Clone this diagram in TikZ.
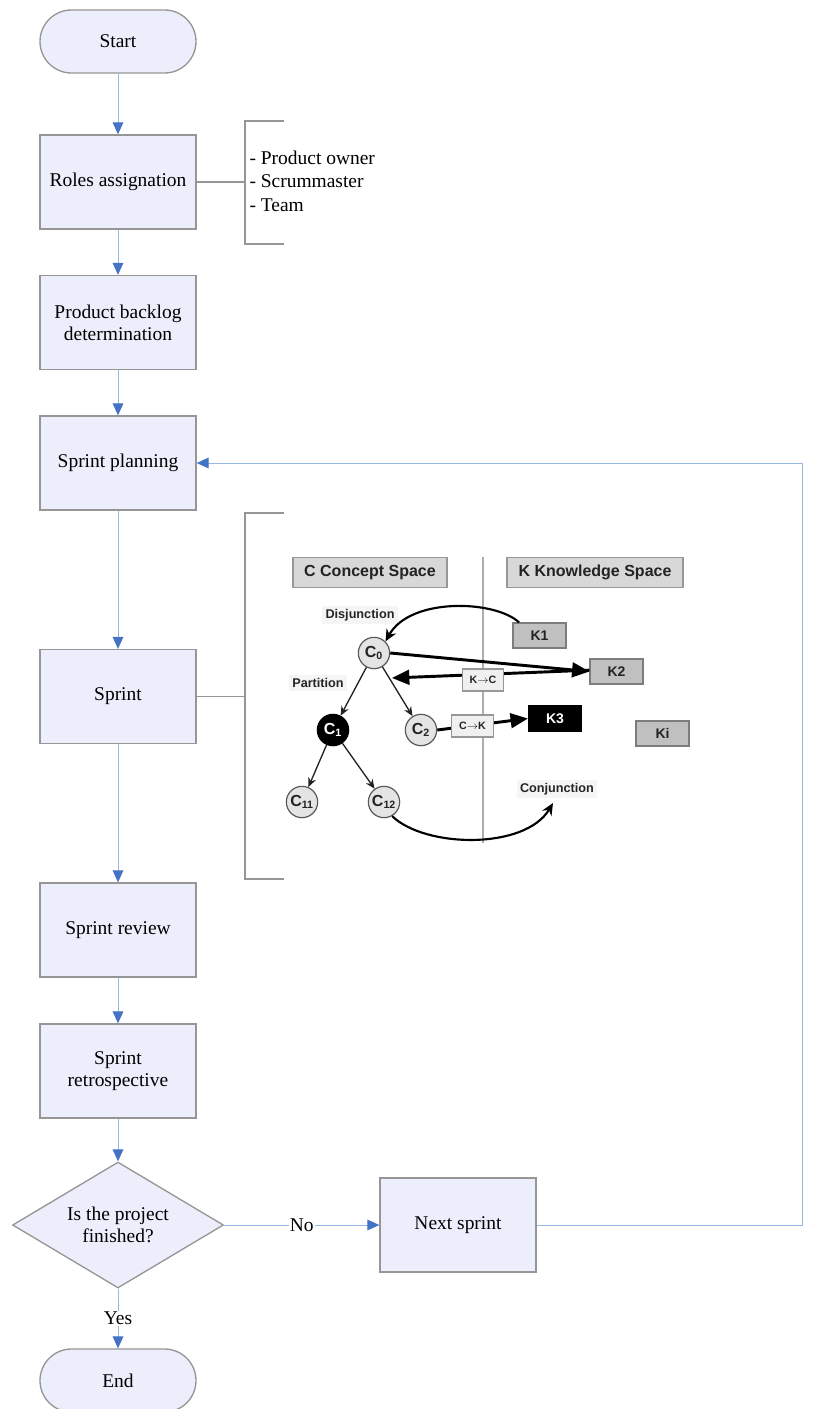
\documentclass[tikz,border=0pt]{standalone}
\usepackage{fontspec}
\setmainfont{Liberation Serif}
\setsansfont{Liberation Sans}
\usetikzlibrary{arrows.meta,shapes.geometric}

\definecolor{boxfill}{RGB}{237,238,251}
\definecolor{boxdraw}{RGB}{150,150,150}
\definecolor{flowblue}{RGB}{150,185,228}
\definecolor{tipblue}{RGB}{68,114,196}
\definecolor{figtext}{RGB}{35,35,35}
\definecolor{kfill}{RGB}{192,192,192}
\definecolor{kdraw}{RGB}{125,125,125}
\definecolor{headfill}{RGB}{216,216,216}
\definecolor{cfill}{RGB}{228,228,228}

\tikzset{every picture/.style={line width=0.75pt}}
\tikzset{
  flowbox/.style={draw=boxdraw, fill=boxfill, line width=1pt, minimum width=117pt, minimum height=70.5pt,
    inner sep=2pt, align=center, font=\fontsize{14.6}{16.3}\selectfont},
  terminal/.style={flowbox, minimum height=47.25pt, rounded corners=23.6pt},
  decision/.style={flowbox, diamond, aspect=1.67, minimum width=158.25pt, minimum height=94.5pt, inner sep=0pt},
  flowline/.style={draw=flowblue, line width=0.75pt, -{Triangle[length=9pt,width=8pt,color=tipblue]}},
  bracketline/.style={draw=boxdraw, line width=0.9pt},
  spacehead/.style={draw=kdraw!80, fill=headfill, line width=0.9pt, minimum height=22.5pt,
    font=\sffamily\bfseries\fontsize{12}{14}\selectfont, text=figtext},
  kbox/.style={draw=kdraw, fill=kfill, line width=0.9pt, minimum width=39.75pt, minimum height=18.75pt,
    inner sep=1pt, font=\sffamily\bfseries\fontsize{10.5}{12}\selectfont, text=figtext},
  kdark/.style={kbox, fill=black, draw=black, text=white},
  concept/.style={circle, draw=kdraw!70!black, fill=cfill, line width=0.9pt, minimum size=23.5pt,
    inner sep=0pt, font=\sffamily\bfseries\fontsize{12}{13}\selectfont, text=figtext},
  cdark/.style={concept, fill=black, draw=black, text=white},
  oplabel/.style={fill=gray!8, inner sep=2.5pt, font=\sffamily\bfseries\fontsize{9.5}{11}\selectfont, text=gray!30!black},
  opbox/.style={draw=kdraw!80, fill=gray!12, line width=0.8pt, minimum width=31pt, minimum height=16.5pt,
    inner sep=1pt, font=\sffamily\bfseries\fontsize{8}{9}\selectfont, text=figtext},
  treearrow/.style={draw=figtext, line width=1pt, -{Stealth[length=7pt,width=6pt]}},
  boldarrow/.style={draw=black, line width=2.2pt, -{Triangle[length=13pt,width=11pt]}},
  arcarrow/.style={draw=black, line width=1.6pt, -{Stealth[length=9pt,width=8pt]}}
}

\begin{document}
\begin{tikzpicture}[x=0.75pt,y=0.75pt,yscale=-1,xscale=1]
	\useasboundingbox (0,0) rectangle (823,1409);

	%Flowchart: Terminator
	\node[terminal] (start) at (118,41.5) {Start};
	%Flowchart: Process
	\node[flowbox] (roles) at (118,182) {Roles assignation};
	\node[flowbox] (backlog) at (118,322.5) {Product backlog\\determination};
	\node[flowbox] (planning) at (118,463) {Sprint planning};
	\node[flowbox] (sprint) at (118,696.5) {Sprint};
	\node[flowbox] (review) at (118,930) {Sprint review};
	\node[flowbox] (retro) at (118,1071) {Sprint\\retrospective};
	%Flowchart: Decision
	\node[decision] (finished) at (118,1225) {Is the project\\finished?};
	\node[flowbox] (next) at (458,1225) {Next sprint};
	\node[terminal] (end) at (118,1380.5) {End};

	%Straight Lines
	\draw[flowline] (start) -- (roles);
	\draw[flowline] (roles) -- (backlog);
	\draw[flowline] (backlog) -- (planning);
	\draw[flowline] (planning) -- (sprint);
	\draw[flowline] (sprint) -- (review);
	\draw[flowline] (review) -- (retro);
	\draw[flowline] (retro) -- (finished);
	\draw[flowline] (finished.east) -- node[fill=white, inner sep=1pt, font=\fontsize{14.6}{16}\selectfont] {No} (next.west);
	\draw[flowline] (finished.south) -- node[fill=white, inner sep=1pt, font=\fontsize{14.6}{16}\selectfont] {Yes} (end.north);
	%Loop back
	\coordinate (loopcorner) at (802,1225);
	\draw[flowline] (next.east) -- (loopcorner) |- (planning.east);

	%Annotation: roles
	\coordinate (rolesbar) at (245,182);
	\draw[bracketline] (roles.east) -- (rolesbar);
	\draw[bracketline] (284,121) -- (245,121) -- (245,244) -- (284,244);
	% Text Node
	\node[anchor=west, inner sep=0pt, align=left, font=\fontsize{14.6}{17.6}\selectfont] (rolelist) at (249,181)
		{- Product owner\\- Scrummaster\\- Team};

	%Annotation: sprint
	\coordinate (sprintbar) at (245,696.5);
	\draw[bracketline] (sprint.east) -- (sprintbar);
	\draw[bracketline] (284,513) -- (245,513) -- (245,879) -- (284,879);

	%C-K figure
	\draw[draw=gray!65, line width=1pt] (483,557) -- (483,843);
	\node[spacehead, minimum width=115.5pt] (cspace) at (370,572.5) {C Concept Space};
	\node[spacehead, minimum width=132pt] (kspace) at (595,572.5) {K Knowledge Space};

	% Text Node
	\node[oplabel] (disj) at (360,615) {Disjunction};
	\node[oplabel] (part) at (318,683) {Partition};
	\node[oplabel] (conj) at (557,789) {Conjunction};

	%Concepts
	\node[concept] (c0) at (374,653) {C\textsubscript{0}};
	\node[cdark] (c1) at (333,730) {C\textsubscript{1}};
	\node[concept] (c2) at (421,730) {C\textsubscript{2}};
	\node[concept] (c11) at (302,802) {C\textsubscript{11}};
	\node[concept] (c12) at (384,802) {C\textsubscript{12}};

	%Knowledge
	\node[kbox] (k1) at (539.5,635.5) {K1};
	\node[kbox] (k2) at (616.5,671.5) {K2};
	\node[kdark] (k3) at (555,718.5) {K3};
	\node[kbox] (ki) at (662.5,733.5) {Ki};

	%Tree arrows
	\draw[treearrow] (c0) -- (c1);
	\draw[treearrow] (c0) -- (c2);
	\draw[treearrow] (c1) -- (c11);
	\draw[treearrow] (c1) -- (c12);

	%Operators
	\draw[arcarrow] ([xshift=5pt]k1.north west) .. controls (495,600) and (410,597) .. (c0.45);
	\draw[boldarrow] (c0.east) -- (k2.west);
	\coordinate (kcend) at (392,678);
	\draw[boldarrow] ([yshift=-1pt]k2.west) -- (kcend);
	\draw[boldarrow] (c2.east) -- (k3.west);
	\draw[arcarrow] (c12.-60) .. controls (425,848) and (525,850) .. (553,803);

	\node[opbox] (kc) at (483,680) {K$\to$C};
	\node[opbox] (ck) at (472.5,726) {C$\to$K};

\end{tikzpicture}
\end{document}
